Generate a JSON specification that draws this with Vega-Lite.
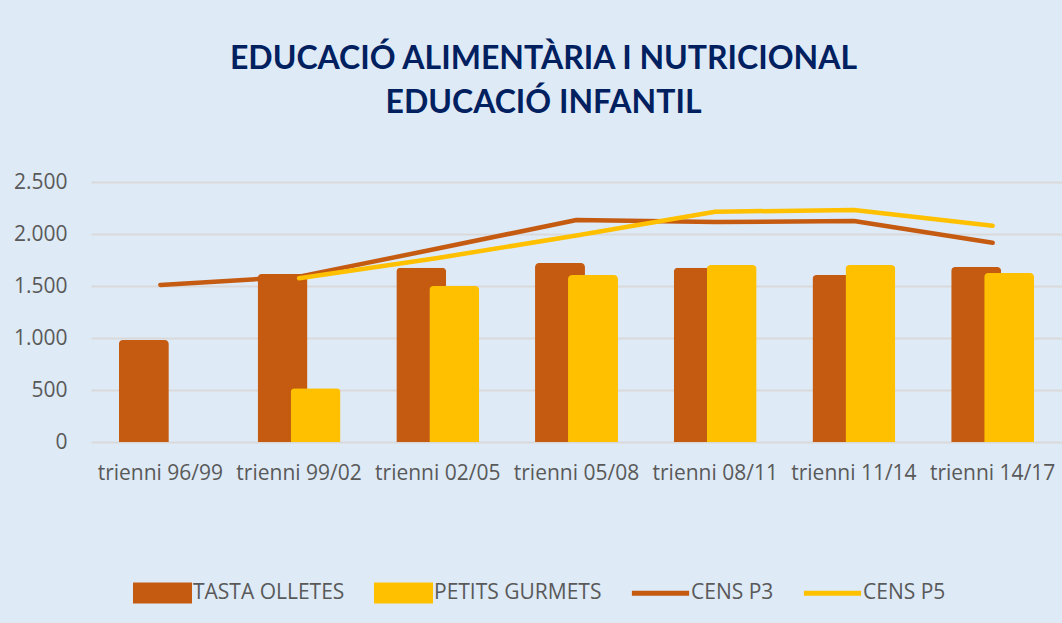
{
  "$schema": "https://vega.github.io/schema/vega-lite/v6.json",
  "autosize": "none",
  "width": 971,
  "height": 260,
  "padding": {"left": 91, "top": 182, "right": 0, "bottom": 181},
  "background": "#deeaf6",
  "title": {
    "text": ["EDUCACIÓ ALIMENTÀRIA I NUTRICIONAL", "EDUCACIÓ INFANTIL"],
    "font": "Lato",
    "fontSize": 32,
    "fontWeight": "bold",
    "color": "#002060",
    "lineHeight": 44,
    "anchor": "middle",
    "dx": -33,
    "offset": 51
  },
  "data": {
    "values": [
      {"periode": "trienni 96/99", "serie": "TASTA OLLETES", "valor": 980},
      {"periode": "trienni 99/02", "serie": "TASTA OLLETES", "valor": 1615},
      {"periode": "trienni 02/05", "serie": "TASTA OLLETES", "valor": 1676},
      {"periode": "trienni 05/08", "serie": "TASTA OLLETES", "valor": 1721},
      {"periode": "trienni 08/11", "serie": "TASTA OLLETES", "valor": 1676},
      {"periode": "trienni 11/14", "serie": "TASTA OLLETES", "valor": 1606},
      {"periode": "trienni 14/17", "serie": "TASTA OLLETES", "valor": 1683},
      {"periode": "trienni 99/02", "serie": "PETITS GURMETS", "valor": 516},
      {"periode": "trienni 02/05", "serie": "PETITS GURMETS", "valor": 1500},
      {"periode": "trienni 05/08", "serie": "PETITS GURMETS", "valor": 1606},
      {"periode": "trienni 08/11", "serie": "PETITS GURMETS", "valor": 1702},
      {"periode": "trienni 11/14", "serie": "PETITS GURMETS", "valor": 1702},
      {"periode": "trienni 14/17", "serie": "PETITS GURMETS", "valor": 1625},
      {"periode": "trienni 96/99", "serie": "CENS P3", "valor": 1510},
      {"periode": "trienni 99/02", "serie": "CENS P3", "valor": 1590},
      {"periode": "trienni 02/05", "serie": "CENS P3", "valor": 1860},
      {"periode": "trienni 05/08", "serie": "CENS P3", "valor": 2135},
      {"periode": "trienni 08/11", "serie": "CENS P3", "valor": 2115},
      {"periode": "trienni 11/14", "serie": "CENS P3", "valor": 2125},
      {"periode": "trienni 14/17", "serie": "CENS P3", "valor": 1915},
      {"periode": "trienni 99/02", "serie": "CENS P5", "valor": 1575},
      {"periode": "trienni 02/05", "serie": "CENS P5", "valor": 1770},
      {"periode": "trienni 05/08", "serie": "CENS P5", "valor": 1985},
      {"periode": "trienni 08/11", "serie": "CENS P5", "valor": 2214},
      {"periode": "trienni 11/14", "serie": "CENS P5", "valor": 2231},
      {"periode": "trienni 14/17", "serie": "CENS P5", "valor": 2080}
    ]
  },
  "encoding": {
    "x": {
      "field": "periode",
      "type": "nominal",
      "sort": null,
      "scale": {"paddingInner": 0, "paddingOuter": 0},
      "axis": {
        "title": null,
        "domain": false,
        "ticks": false,
        "labelAngle": 0,
        "labelFont": "Open Sans",
        "labelFontSize": 21,
        "labelColor": "#595959",
        "labelPadding": 20
      }
    },
    "y": {
      "field": "valor",
      "type": "quantitative",
      "scale": {"domain": [0, 2500]},
      "axis": {
        "title": null,
        "domain": false,
        "ticks": false,
        "values": [0, 500, 1000, 1500, 2000, 2500],
        "labelExpr": "replace(format(datum.value, ','), ',', '.')",
        "labelFont": "Open Sans",
        "labelFontSize": 21,
        "labelColor": "#595959",
        "labelPadding": 24,
        "gridColor": "#d9d9d9",
        "gridWidth": 2
      }
    },
    "color": {
      "field": "serie",
      "type": "nominal",
      "scale": {
        "domain": ["TASTA OLLETES", "PETITS GURMETS", "CENS P3", "CENS P5"],
        "range": ["#c55a11", "#ffc000", "#c55a11", "#ffc000"]
      },
      "legend": {
        "orient": "none",
        "legendX": 42,
        "legendY": 381,
        "direction": "horizontal",
        "title": null,
        "padding": 0,
        "symbolSize": 3481,
        "symbolStrokeWidth": 0,
        "labelFont": "Open Sans",
        "labelFontSize": 21,
        "labelColor": "#595959",
        "labelOffset": 1,
        "labelLimit": 400,
        "columnPadding": 29,
        "encode": {
          "symbols": {
            "update": {
              "shape": {"signal": "indexof(['CENS P3','CENS P5'], datum.value) >= 0 ? 'M-0.97,-0.085H0.97V0.085H-0.97Z' : 'M-1,-0.356H1V0.356H-1Z'"},
              "fill": {"scale": "color", "field": "value"},
              "fillOpacity": {"value": 1},
              "opacity": {"value": 1},
              "stroke": {"value": "transparent"}
            }
          }
        }
      }
    }
  },
  "layer": [
    {
      "transform": [{"filter": "datum.serie === 'TASTA OLLETES'"}],
      "mark": {"type": "bar", "width": {"band": 0.36}, "xOffset": -16.5, "cornerRadiusTopLeft": 4, "cornerRadiusTopRight": 4}
    },
    {
      "transform": [{"filter": "datum.serie === 'PETITS GURMETS'"}],
      "mark": {"type": "bar", "width": {"band": 0.36}, "xOffset": 16.5, "cornerRadiusTopLeft": 4, "cornerRadiusTopRight": 4}
    },
    {
      "transform": [{"filter": "datum.serie === 'CENS P3' || datum.serie === 'CENS P5'"}],
      "mark": {"type": "line", "strokeWidth": 4.5, "strokeCap": "round", "strokeJoin": "round"}
    }
  ],
  "config": {
    "view": {"stroke": null}
  }
}
